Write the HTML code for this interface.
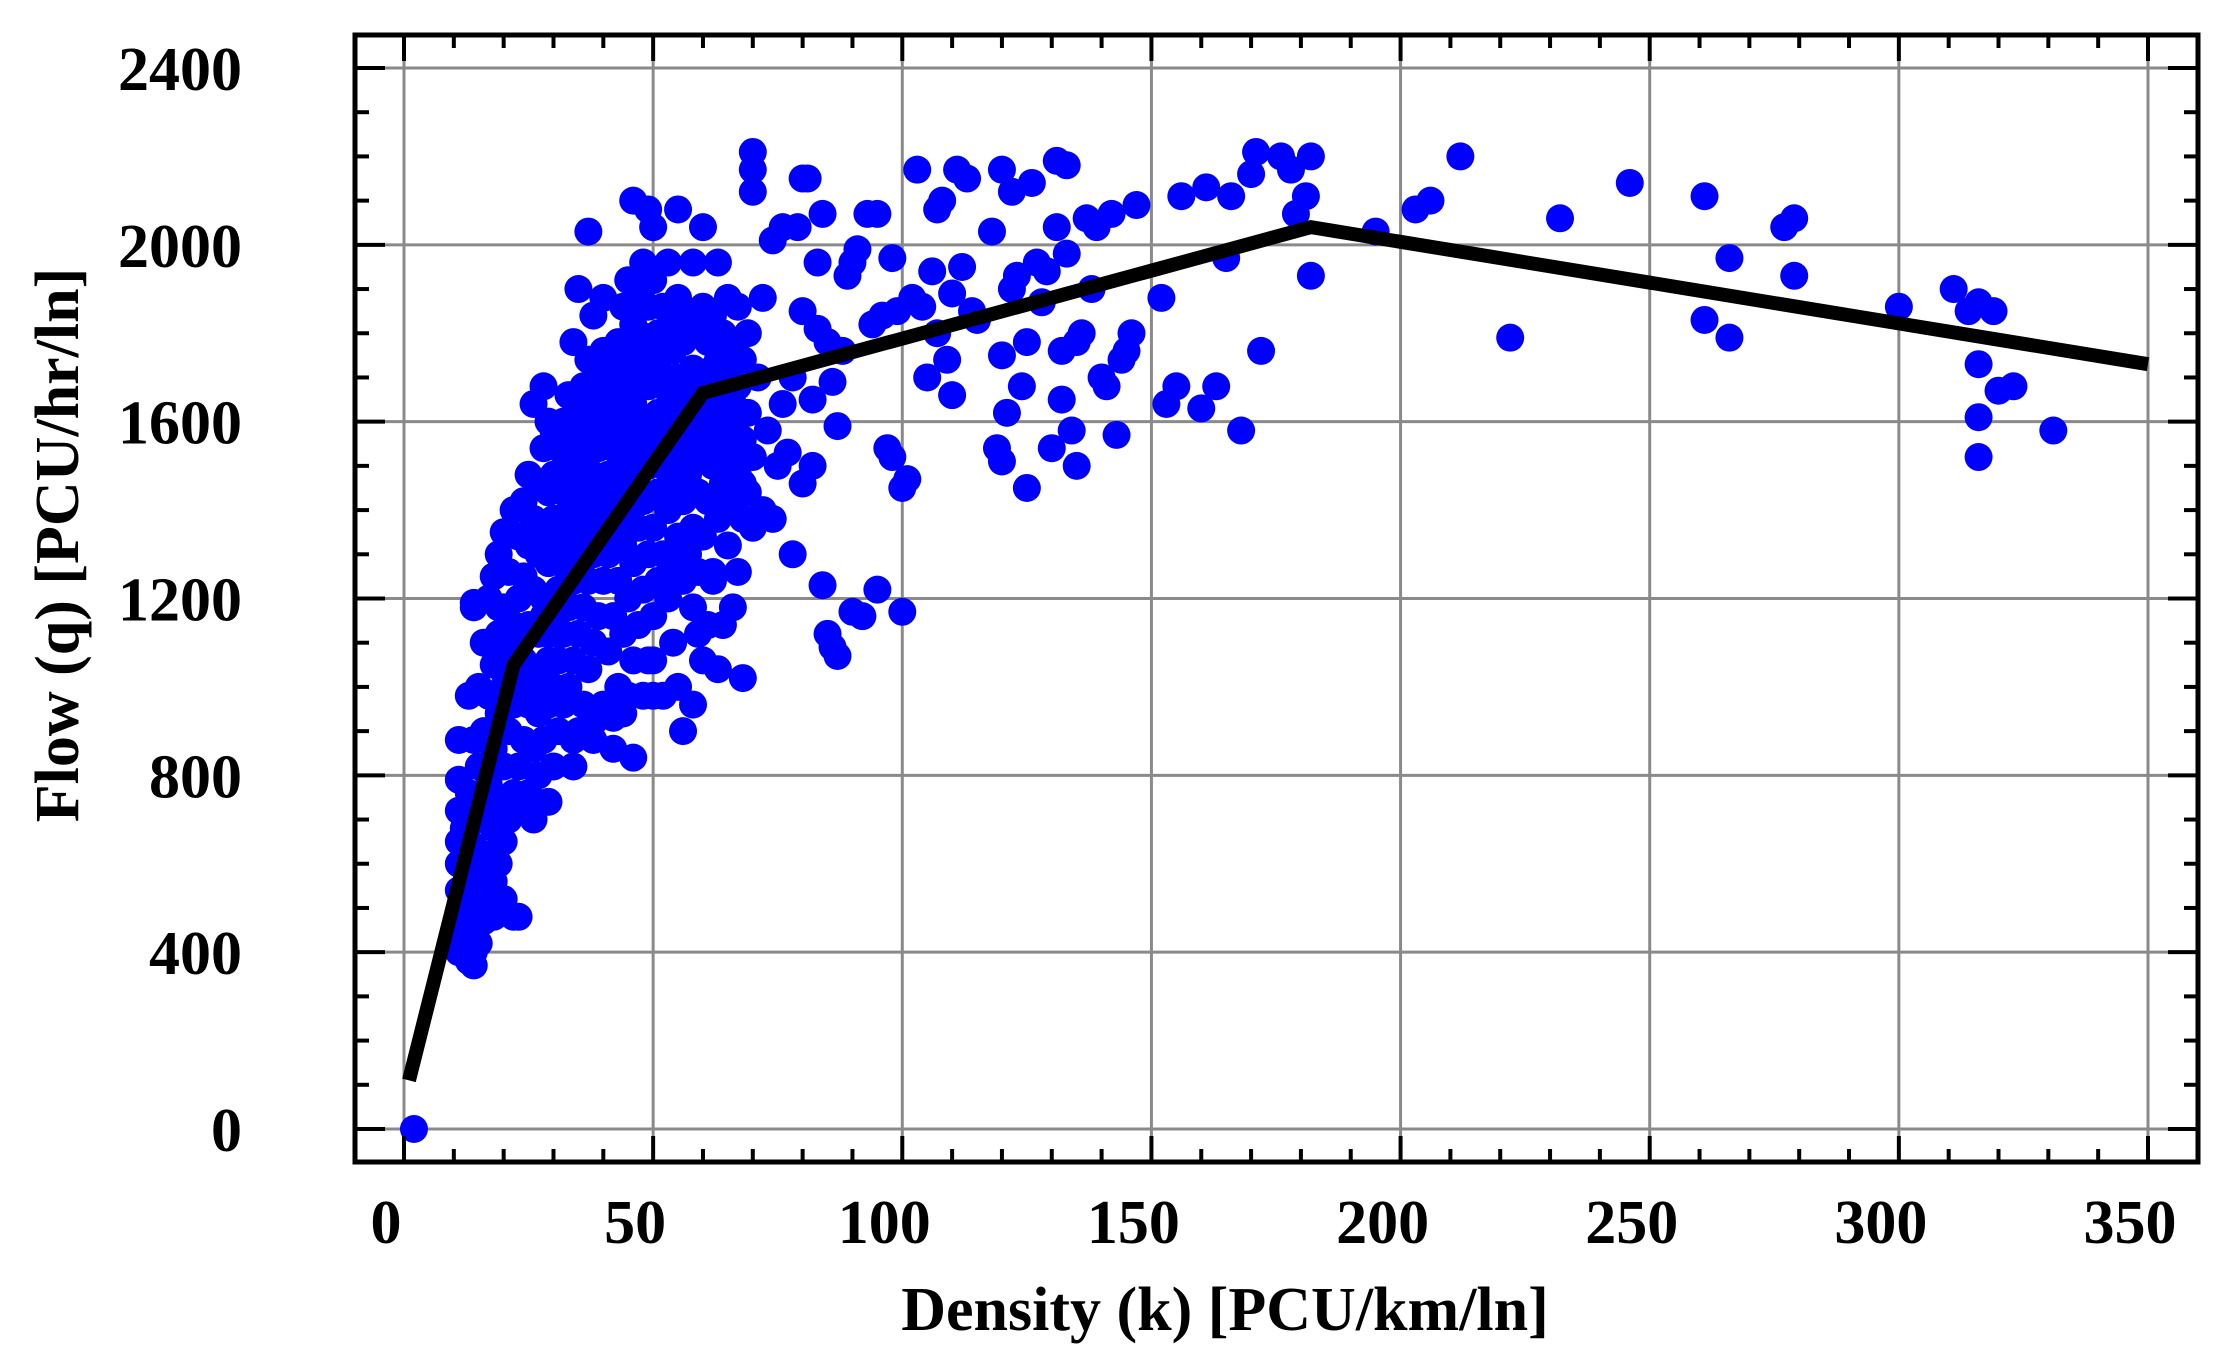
<!DOCTYPE html>
<html><head><meta charset="utf-8"><style>
html,body{margin:0;padding:0;background:#fff;}
svg{display:block;}
text{font-family:"Liberation Serif",serif;font-weight:bold;fill:#000;}
</style></head>
<body>
<svg id="chart" width="2234" height="1353" viewBox="0 0 2234 1353" xmlns="http://www.w3.org/2000/svg">
<g id="grid"></g>
<g id="points"></g>
<g id="fit"></g>
<g id="frame"></g>
<g id="labels"></g>
<text x="1225" y="1330" font-size="62" text-anchor="middle">Density (k) [PCU/km/ln]</text>
<text transform="translate(78,545) rotate(-90)" font-size="62" text-anchor="middle">Flow (q) [PCU/hr/ln]</text>
</svg>
<script>
const xTicks=[0,50,100,150,200,250,300,350];
const yTicks=[0,400,800,1200,1600,2000,2400];
const fitK=[1,22,60,182,350];
const fitQ=[110,1050,1665,2040,1730];
const densityK=[
11,11,11,11,11,11,11,11,12,12,12,13,13,13,13,14,14,14,14,14,15,15,15,15,16,16,16,16,17,17,17,17,17,18,18,18,18,18,18,19,19,19,19,19,20,20,20,20,20,20,21,21,21,21,22,22,22,22,22,23,23,23,23,
24,24,24,24,24,25,25,25,25,25,26,26,26,26,26,26,27,27,27,27,27,28,28,28,28,28,28,29,29,29,29,29,29,30,30,30,30,30,30,
31,31,31,31,31,32,32,32,32,32,33,33,33,33,33,34,34,34,34,34,34,35,35,35,35,35,35,36,36,36,36,36,37,37,37,37,37,37,38,38,38,38,38,38,39,39,39,39,40,40,40,40,40,40,
41,41,41,41,42,42,42,42,42,43,43,43,43,43,44,44,44,44,44,44,45,45,45,45,45,45,46,46,46,46,46,46,47,47,47,47,47,48,48,48,48,48,48,49,49,49,49,49,49,50,50,50,50,50,50,50,
51,51,51,51,52,52,52,52,52,53,53,53,53,53,54,54,54,54,55,55,55,55,55,55,56,56,56,56,56,57,57,57,57,58,58,58,58,58,59,59,59,59,59,60,60,60,60,60,60,
61,61,61,61,62,62,62,62,63,63,63,63,63,64,64,64,64,65,65,65,65,66,66,66,66,67,67,67,67,68,68,68,68,69,69,69,70,70,70,70,70,71,72,72,73,74,74,75,76,76,77,78,78,79,80,80,80,81,82,82,83,83,84,84,85,85,86,86,87,87,88,89,90,90,91,92,93,94,95,95,96,97,98,98,99,100,100,101,102,103,104,105,106,107,107,108,109,110,110,111,112,113,114,115,118,119,120,120,120,121,122,122,123,124,125,125,126,127,128,129,130,131,131,132,132,133,133,134,135,135,136,137,138,139,140,141,142,143,144,145,146,147,152,153,155,156,160,161,163,165,166,168,170,171,172,176,178,179,181,182,182,195,203,206,212,222,232,246,261,261,266,266,277,279,279,300,311,314,316,316,316,316,319,320,323,331,2,19,14,14,23,
12,13,15,16,19,21,23,25,27,29,31,33,35,37,39,41,43,45,47,49,51,53,55,57,59,61,63,65,67,
20,24,28,32,36,40,44,48,52,56,60,64,68,26,30,34,38,42,46,50,54,58,62,66,34,38,42,46,50,54,58,62];
const flowQ=[
400,470,540,600,650,720,790,880,440,520,680,380,560,760,980,400,500,640,880,1180,420,600,820,1000,470,700,900,1100,520,620,780,980,1200,480,560,680,860,1050,1250,600,740,940,1120,1300,520,650,820,1000,1180,1350,700,900,1080,1260,480,760,960,1140,1400,820,1020,1200,1340,
720,880,1060,1250,1420,760,960,1140,1320,1480,700,860,1040,1220,1380,1640,800,940,1120,1300,1460,880,1040,1200,1360,1540,1680,740,960,1120,1280,1440,1600,820,1000,1160,1320,1480,1580,
900,1060,1220,1380,1540,960,1120,1280,1440,1600,1000,1180,1340,1500,1660,820,1060,1240,1400,1560,1780,900,1120,1300,1460,1620,1900,960,1180,1360,1520,1680,1040,1240,1420,1580,1740,2030,920,1100,1300,1480,1640,1840,1160,1360,1540,1700,960,1240,1420,1600,1760,1880,
1080,1300,1480,1660,930,1160,1360,1540,1720,1000,1240,1420,1600,1780,940,1120,1320,1500,1680,1860,980,1200,1400,1580,1760,1920,1060,1280,1460,1640,1820,2100,1140,1360,1540,1720,1900,980,1220,1420,1600,1780,1960,1060,1300,1500,1680,1860,2080,980,1160,1360,1560,1740,1920,2040,
1240,1440,1620,1800,980,1300,1500,1680,1860,1200,1400,1580,1760,1960,1280,1460,1640,1820,1000,1340,1520,1700,1880,2080,900,1240,1420,1600,1780,1300,1480,1660,1840,960,1360,1540,1720,1960,1120,1260,1440,1620,1800,1060,1340,1520,1700,1860,2040,
1140,1420,1600,1780,1260,1500,1680,1840,1040,1380,1560,1740,1960,1140,1460,1640,1800,1320,1520,1700,1880,1180,1420,1620,1780,1260,1480,1680,1860,1020,1380,1560,1740,1440,1620,1800,1360,1520,2120,2170,2210,1700,1400,1880,1580,1380,2010,1500,1640,2040,1530,1300,1700,2040,1460,1850,2150,2150,1500,1650,1960,1810,1230,2070,1120,1780,1090,1690,1590,1070,1760,1930,1170,1960,1990,1160,2070,1820,1220,2070,1840,1540,1520,1970,1850,1170,1450,1470,1880,2170,1860,1700,1940,2080,1800,2100,1740,1660,1890,2170,1950,2150,1850,1830,2030,1540,1510,1750,2170,1620,1900,2120,1930,1680,1450,1780,2140,1960,1870,1940,1540,2040,2190,1650,1760,2180,1980,1580,1500,1780,1800,2060,1900,2040,1700,1680,2070,1570,1740,1760,1800,2090,1880,1640,1680,2110,1630,2130,1680,1970,2110,1580,2160,2210,1760,2200,2170,2070,2110,2200,1930,2030,2080,2100,2200,1790,2060,2140,2110,1830,1970,1790,2040,2060,1930,1860,1900,1850,1870,1730,1610,1520,1850,1670,1680,1580,0,1180,1190,370,480,
600,480,700,580,820,980,1100,1040,1000,1060,1120,1260,1380,1480,1440,1560,1640,1700,1800,1760,1720,1680,1640,1600,1560,1680,1660,1580,1620,
900,980,1160,1200,1320,1380,1440,1500,1540,1580,1600,1560,1460,1320,1380,1460,1540,1620,1700,1780,1760,1700,1720,1640,880,880,860,840,1060,1100,1180,1240];

const NS='http://www.w3.org/2000/svg';
const L=355,R=2198,T=35,B=1162;
const X0=404,X350=2148,Y0=1129,Y2400=68;
function xs(k){return X0+(X350-X0)*k/350;}
function ys(q){return Y0+(Y2400-Y0)*q/2400;}
function mk(tag,attrs,parent){const e=document.createElementNS(NS,tag);for(const a in attrs)e.setAttribute(a,attrs[a]);parent.appendChild(e);return e;}
const grid=document.getElementById('grid'),pts=document.getElementById('points'),fit=document.getElementById('fit'),frame=document.getElementById('frame'),labels=document.getElementById('labels');
xTicks.forEach(t=>{
  const g=mk('line',{x1:xs(t),x2:xs(t),y1:T,y2:B,stroke:'#8a8a8a','stroke-width':3},grid);
  
  
  const tx=mk('text',{x:xs(t)-18,y:1243,'font-size':62,'text-anchor':'middle'},labels);
  tx.textContent=t;
  
  
});
yTicks.forEach(t=>{
  const g=mk('line',{x1:L,x2:R,y1:ys(t),y2:ys(t),stroke:'#8a8a8a','stroke-width':3},grid);
  
  
  const tx=mk('text',{x:242,y:ys(t)+22,'font-size':62,'text-anchor':'end'},labels);
  tx.textContent=t;
  
  
});
for(let i=0;i<densityK.length;i++){
  const c=mk('circle',{cx:xs(densityK[i]),cy:ys(flowQ[i]),r:14,fill:'#0000ff'},pts);
  
  
}
const pl=mk('polyline',{points:fitK.map((k,i)=>xs(k)+','+ys(fitQ[i])).join(' '),fill:'none',stroke:'#000','stroke-width':14,'stroke-linejoin':'miter'},fit);


const fr=mk('rect',{x:L,y:T,width:R-L,height:B-T,fill:'none',stroke:'#000','stroke-width':5},frame);


for(let k=-10;k<=360;k+=10){
  if(k<-9.9||xs(k)<L||xs(k)>R)continue;
  const major=k%50===0, len=major?26:13;
  mk('line',{x1:xs(k),x2:xs(k),y1:B,y2:B-len,stroke:'#000','stroke-width':4},frame);
  mk('line',{x1:xs(k),x2:xs(k),y1:T,y2:T+len,stroke:'#000','stroke-width':4},frame);
}
for(let q=-100;q<=2500;q+=100){
  if(ys(q)>B||ys(q)<T)continue;
  const major=q%400===0, len=major?30:14;
  mk('line',{x1:L,x2:L+len,y1:ys(q),y2:ys(q),stroke:'#000','stroke-width':4},frame);
  mk('line',{x1:R,x2:R-len,y1:ys(q),y2:ys(q),stroke:'#000','stroke-width':4},frame);
}
</script>
</body></html>
